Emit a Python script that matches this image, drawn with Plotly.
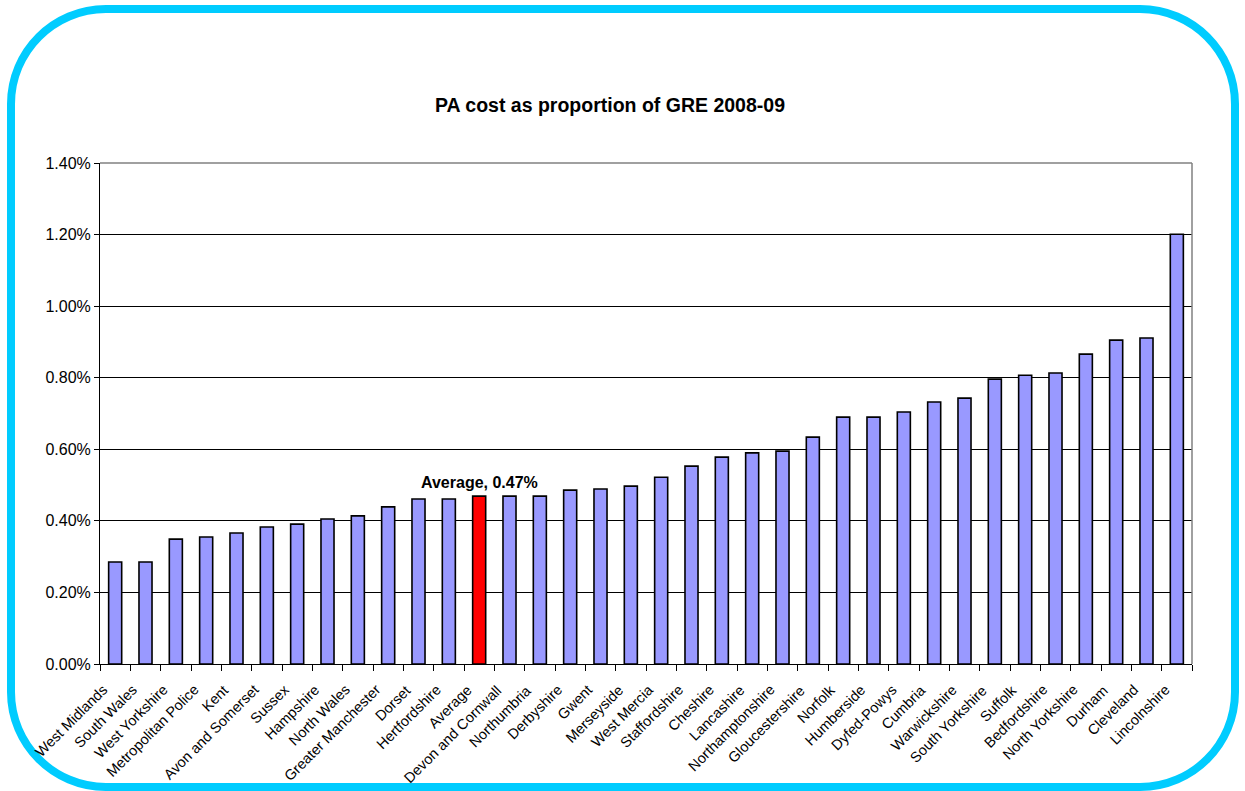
import plotly.graph_objects as go

categories = ["West Midlands", "South Wales", "West Yorkshire", "Metropolitan Police", "Kent",
              "Avon and Somerset", "Sussex", "Hampshire", "North Wales", "Greater Manchester",
              "Dorset", "Hertfordshire", "Average", "Devon and Cornwall", "Northumbria",
              "Derbyshire", "Gwent", "Merseyside", "West Mercia", "Staffordshire", "Cheshire",
              "Lancashire", "Northamptonshire", "Gloucestershire", "Norfolk", "Humberside",
              "Dyfed-Powys", "Cumbria", "Warwickshire", "South Yorkshire", "Suffolk",
              "Bedfordshire", "North Yorkshire", "Durham", "Cleveland", "Lincolnshire"]
values = [0.285, 0.285, 0.349, 0.355, 0.366, 0.383, 0.391, 0.405, 0.414, 0.439,
          0.461, 0.461, 0.469, 0.469, 0.469, 0.486, 0.489, 0.497, 0.522, 0.553,
          0.578, 0.590, 0.595, 0.634, 0.690, 0.690, 0.704, 0.732, 0.743, 0.796,
          0.807, 0.813, 0.866, 0.905, 0.911, 1.201]
average_label = "Average, 0.47%"
title_text = "PA cost as proportion of GRE 2008-09"

fracs = [v / 100 for v in values]
colors = ["#FF0000" if c == "Average" else "#9999FF" for c in categories]

W, H = 1245, 791
L, R, T, B = 100, 1192, 163, 664

fig = go.Figure(go.Bar(
    x=categories, y=fracs,
    marker=dict(color=colors, line=dict(color="#000000", width=1.6)),
    hoverinfo="x+y",
))

font = "Liberation Sans, Arial, sans-serif"

def px2paper(px, py):
    return (px - L) / (R - L), (B - py) / (B - T)

# rounded border path in paper coords
x0, y0, x1, y1, r = 11, 9, 1235, 787, 95
k = 0.5523 * r
def P(px, py):
    a, b = px2paper(px, py)
    return f"{a:.5f},{b:.5f}"
path = (
    f"M {P(x0 + r, y0)} L {P(x1 - r, y0)} "
    f"C {P(x1 - r + k, y0)} {P(x1, y0 + r - k)} {P(x1, y0 + r)} "
    f"L {P(x1, y1 - r)} "
    f"C {P(x1, y1 - r + k)} {P(x1 - r + k, y1)} {P(x1 - r, y1)} "
    f"L {P(x0 + r, y1)} "
    f"C {P(x0 + r - k, y1)} {P(x0, y1 - r + k)} {P(x0, y1 - r)} "
    f"L {P(x0, y0 + r)} "
    f"C {P(x0, y0 + r - k)} {P(x0 + r - k, y0)} {P(x0 + r, y0)} Z"
)

# category labels as rotated annotations (for exact placement)
label_annots = [
    dict(x=c, y=0, xref="x", yref="y", text=c, showarrow=False, textangle=-45,
         xanchor="right", yanchor="top", xshift=-2, yshift=-15,
         font=dict(family=font, size=14.5, color="#000000"))
    for c in categories
]

fig.update_layout(
    width=W, height=H,
    margin=dict(l=L, r=W - R, t=T, b=H - B, autoexpand=False),
    paper_bgcolor="white", plot_bgcolor="white",
    showlegend=False,
    bargap=0.57,
    font=dict(family=font, size=14, color="#000000"),
    title=dict(text="<b>" + title_text + "</b>", x=610 / W, xanchor="center",
               y=1 - 105 / H, yanchor="middle", xref="container", yref="container",
               font=dict(family=font, size=19.5, color="#000000")),
    xaxis=dict(
        type="category", categoryorder="array", categoryarray=categories,
        range=[-0.5, len(categories) - 0.5], autorange=False,
        ticks="outside", tickson="boundaries", ticklen=6, tickwidth=1, showticklabels=False,
        tickcolor="#000000", showline=True, linecolor="#000000", linewidth=1,
        showgrid=False,
    ),
    yaxis=dict(
        range=[0, 0.014], autorange=False, dtick=0.002, tickformat=".2%", ticks="outside", ticklen=5,
        tickcolor="#000000", showline=True, linecolor="#000000", linewidth=1,
        showgrid=True, gridcolor="#000000", gridwidth=1, zeroline=False,
        tickfont=dict(family=font, size=16),
    ),
    shapes=[
        dict(type="line", xref="paper", yref="paper", x0=0, x1=1, y0=1, y1=1,
             line=dict(color="#808080", width=1.5)),
        dict(type="line", xref="paper", yref="paper", x0=1, x1=1, y0=0, y1=1,
             line=dict(color="#808080", width=1.5)),
        dict(type="path", xref="paper", yref="paper", path=path,
             line=dict(color="#00CCFF", width=8), fillcolor="rgba(0,0,0,0)", layer="above"),
    ],
    annotations=[
        dict(x="Average", y=fracs[categories.index("Average")], xref="x", yref="y",
             text="<b>" + average_label + "</b>", showarrow=False, yanchor="bottom",
             yshift=3, font=dict(family=font, size=16, color="#000000")),
    ] + label_annots,
)

fig.write_html("out.html",
               config={"displayModeBar": False},
               post_script="document.documentElement.style.margin='0';"
                           "document.body.style.margin='0';"
                           "document.body.style.overflow='hidden';")
